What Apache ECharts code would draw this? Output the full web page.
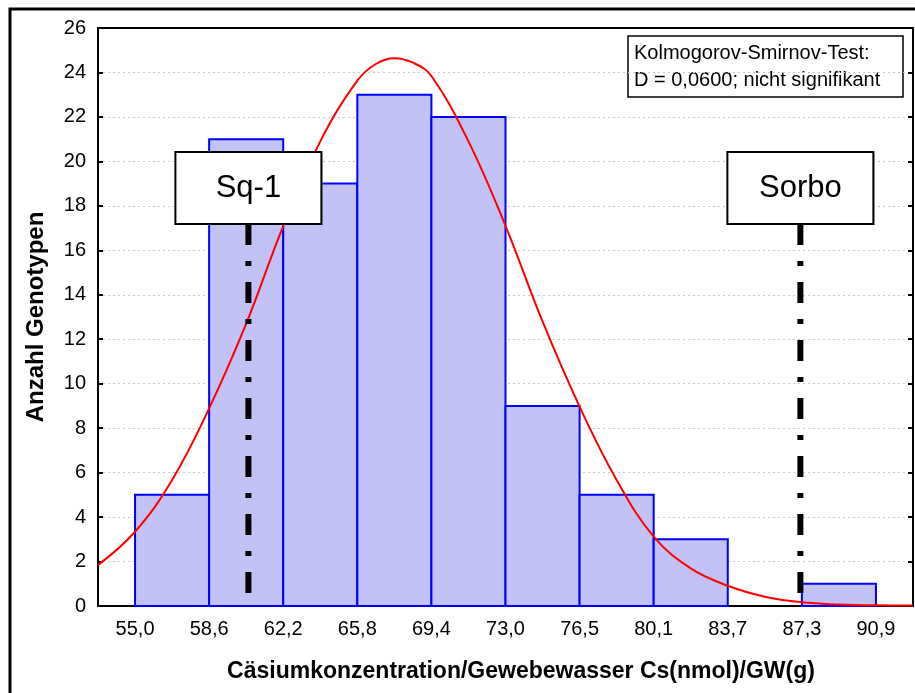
<!DOCTYPE html>
<html>
<head>
<meta charset="utf-8">
<script src="https://cdn.jsdelivr.net/npm/echarts@6/dist/echarts.min.js"></script>
<style>
    html, body { margin: 0; padding: 0; background: #fff; }
    #main { width: 915px; height: 693px; }
</style>
</head>
<body>
<div id="main"></div>
<script>
// Achsenbeschriftung (Klassengrenzen)
var tickLabels = ['55,0', '58,6', '62,2', '65,8', '69,4', '73,0', '76,5', '80,1', '83,7', '87,3', '90,9'];
// Anzahl Genotypen je Klasse
var binCounts = [5, 21, 19, 23, 22, 9, 5, 3, 0, 1];
// Normalverteilungskurve (x in Klassen-Einheiten)
var curveX = [-0.5, 0, 0.5, 1, 1.5, 2, 2.5, 3, 3.25, 3.5, 3.75, 4, 4.5, 5, 5.5, 6, 6.5, 7, 7.5, 8, 8.5, 9, 9.5, 10, 10.5];
var curveY = [1.84, 3.34, 5.67, 8.89, 12.7, 17.09, 20.9, 23.63, 24.38, 24.64, 24.44, 23.84, 20.9, 17.1, 12.8, 8.97, 5.67, 3.12, 1.69, 0.91, 0.42, 0.17, 0.07, 0.03, 0.02];
// Markierungen
var markerNames = ['Sq-1', 'Sorbo'];
var markerX = [1.53, 8.98];

var fontName = '"Liberation Sans", Arial, sans-serif';

var myChart = echarts.init(document.getElementById('main'));

var histData = [];
for (var i = 0; i < binCounts.length; i++) {
    if (binCounts[i] > 0) {
        histData.push([i, i + 1, binCounts[i]]);
    }
}
var curveData = curveX.map(function (x, i) {
    return [x, curveY[i]];
});
var markerData = markerX.map(function (x, i) {
    return [x, i];
});

var option = {
    animation: false,
    grid: {
        left: 98,
        right: 2,
        top: 28,
        bottom: 87
    },
    xAxis: [
        {
            type: 'category',
            data: tickLabels,
            position: 'bottom',
            boundaryGap: true,
            axisLine: { onZero: false, lineStyle: { color: '#000', width: 2 } },
            axisTick: { alignWithLabel: true, inside: true, length: 5, lineStyle: { color: '#000', width: 2 } },
            axisLabel: { color: '#000', fontSize: 20, fontFamily: fontName, margin: 13 },
            splitLine: { show: false }
        },
        {
            type: 'category',
            data: tickLabels,
            position: 'top',
            boundaryGap: true,
            axisLine: { onZero: false, lineStyle: { color: '#000', width: 2 } },
            axisTick: { alignWithLabel: true, inside: true, length: 5, lineStyle: { color: '#000', width: 2 } },
            axisLabel: { show: false },
            splitLine: { show: false }
        },
        {
            type: 'value',
            min: -0.5,
            max: 10.5,
            show: false
        }
    ],
    yAxis: [
        {
            type: 'value',
            min: 0,
            max: 26,
            interval: 2,
            name: 'Anzahl Genotypen',
            nameLocation: 'middle',
            nameGap: 50,
            nameTextStyle: { color: '#000', fontSize: 24, fontWeight: 'bold', fontFamily: fontName },
            axisLine: { show: true, onZero: false, lineStyle: { color: '#000', width: 2 } },
            axisTick: { show: true, inside: true, length: 5, lineStyle: { color: '#000', width: 2 } },
            axisLabel: { color: '#000', fontSize: 20, fontFamily: fontName, margin: 12 },
            splitLine: { show: true, lineStyle: { color: '#c8c8c8', width: 1, type: [2, 3] } }
        },
        {
            type: 'value',
            min: 0,
            max: 26,
            interval: 2,
            position: 'right',
            axisLine: { show: true, onZero: false, lineStyle: { color: '#000', width: 2 } },
            axisTick: { show: true, inside: true, length: 5, lineStyle: { color: '#000', width: 2 } },
            axisLabel: { show: false },
            splitLine: { show: false }
        }
    ],
    graphic: [
        // äußerer Rahmen
        {
            type: 'rect',
            shape: { x: 10, y: 9, width: 1000, height: 1000 },
            style: { fill: 'none', stroke: '#000', lineWidth: 3 },
            silent: true
        },
        // x-Achsentitel
        {
            type: 'text',
            x: 521,
            y: 672,
            style: {
                text: 'Cäsiumkonzentration/Gewebewasser Cs(nmol)/GW(g)',
                fill: '#000',
                font: 'bold 23px ' + fontName,
                textAlign: 'center',
                textVerticalAlign: 'middle'
            }
        },
        // KS-Test Box
        {
            type: 'group',
            x: 628,
            y: 36,
            z: 100,
            children: [
                {
                    type: 'rect',
                    shape: { x: 0, y: 0, width: 275, height: 61 },
                    style: { fill: '#fff', stroke: '#000', lineWidth: 1.5 }
                },
                {
                    type: 'text',
                    x: 6,
                    y: 17,
                    style: { text: 'Kolmogorov-Smirnov-Test:', fill: '#000', font: '20px ' + fontName, textVerticalAlign: 'middle' }
                },
                {
                    type: 'text',
                    x: 6,
                    y: 44,
                    style: { text: 'D = 0,0600; nicht signifikant', fill: '#000', font: '20px ' + fontName, textVerticalAlign: 'middle' }
                }
            ]
        }
    ],
    series: [
        // Histogramm
        {
            type: 'custom',
            xAxisIndex: 2,
            yAxisIndex: 0,
            data: histData,
            encode: { x: [0, 1], y: 2 },
            z: 2,
            renderItem: function (params, api) {
                var p0 = api.coord([api.value(0), api.value(2)]);
                var p1 = api.coord([api.value(1), 0]);
                return {
                    type: 'rect',
                    shape: { x: p0[0], y: p0[1], width: p1[0] - p0[0], height: p1[1] - p0[1] },
                    style: { fill: '#c2c2f6', stroke: '#0000ff', lineWidth: 2 }
                };
            }
        },
        // Normalverteilung
        {
            type: 'line',
            xAxisIndex: 2,
            yAxisIndex: 0,
            data: curveData,
            smooth: 0.4,
            showSymbol: false,
            z: 3,
            lineStyle: { color: '#ff0000', width: 2 }
        },
        // Markierungen Sq-1 / Sorbo
        {
            type: 'custom',
            xAxisIndex: 2,
            yAxisIndex: 0,
            data: markerData,
            encode: { x: 0, y: 1 },
            z: 4,
            renderItem: function (params, api) {
                var p = api.coord([api.value(0), 0]);
                var boxTop = params.coordSys.y + 124;
                var boxW = 146, boxH = 72;
                var name = markerNames[api.value(1)];
                return {
                    type: 'group',
                    children: [
                        {
                            type: 'line',
                            shape: { x1: p[0], y1: boxTop + boxH, x2: p[0], y2: p[1] },
                            style: { stroke: '#000', lineWidth: 6, lineDash: [21, 16, 5, 16] }
                        },
                        {
                            type: 'rect',
                            shape: { x: p[0] - boxW / 2 + 1, y: boxTop + 1, width: boxW, height: boxH },
                            style: { fill: '#999', stroke: null }
                        },
                        {
                            type: 'rect',
                            shape: { x: p[0] - boxW / 2, y: boxTop, width: boxW, height: boxH },
                            style: { fill: '#fff', stroke: '#000', lineWidth: 2 }
                        },
                        {
                            type: 'text',
                            x: p[0],
                            y: boxTop + boxH / 2,
                            style: {
                                text: name,
                                fill: '#000',
                                font: '31px ' + fontName,
                                textAlign: 'center',
                                textVerticalAlign: 'middle'
                            }
                        }
                    ]
                };
            }
        }
    ]
};

myChart.setOption(option);
</script>
</body>
</html>
